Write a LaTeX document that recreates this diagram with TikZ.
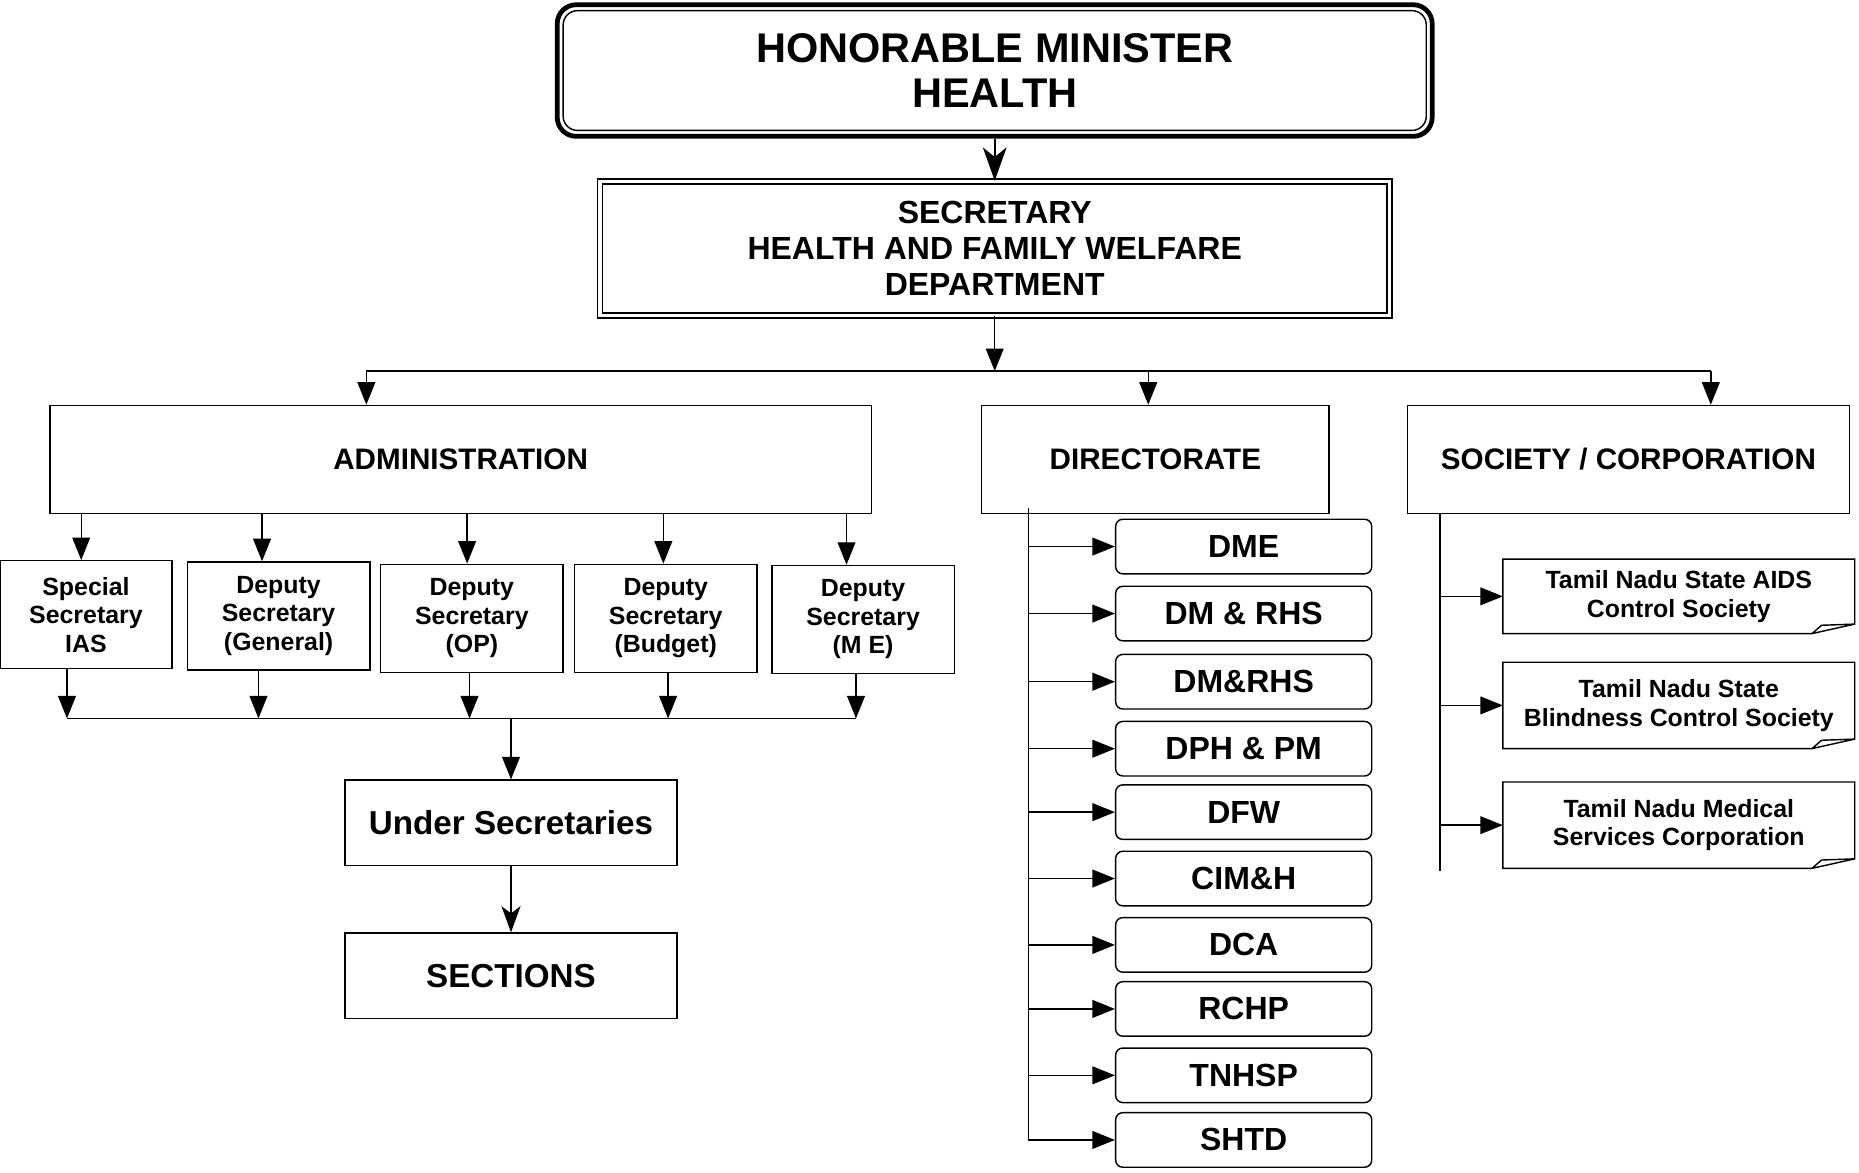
\documentclass[tikz,border=0pt]{standalone}
\usepackage{fontspec}
\setmainfont{Liberation Sans}
\usetikzlibrary{arrows.meta,positioning}

\begin{document}
\begin{tikzpicture}[x=0.5pt,y=-0.5pt,
  every node/.style={inner sep=0pt,align=center,font=\bfseries},
  box/.style={draw,line width=0.6pt},
  topbox/.style={box,minimum height=45.5pt,font=\fontsize{12.5}{14}\selectfont\bfseries},
  depbox/.style={box,minimum width=77pt,minimum height=45.5pt,font=\fontsize{10.5}{12}\selectfont\bfseries},
  lowbox/.style={box,minimum width=140pt,minimum height=36pt,font=\fontsize{14}{16}\selectfont\bfseries},
  dirbox/.style={box,rounded corners=3pt,minimum width=108pt,minimum height=23pt,font=\fontsize{13.5}{15}\selectfont\bfseries},
  socbox/.style={minimum width=148pt,font=\fontsize{10.5}{12}\selectfont\bfseries},
  arr/.style={-{Triangle[length=9.5pt,width=7.5pt]},line width=0.6pt},
  sarr/.style={-{Stealth[length=14pt,width=10pt,inset=4pt]},line width=0.9pt},
  sarr2/.style={-{Stealth[length=11pt,width=8pt,inset=3pt]},line width=0.8pt}]
\useasboundingbox (0,0) rectangle (1568,989);

\node[draw,line width=2pt,rounded corners=8pt,minimum width=369pt,minimum height=55.5pt,
  font=\fontsize{17.5}{19}\selectfont\bfseries] (minister) at (839,59.5) {HONORABLE MINISTER\\HEALTH};
\draw[line width=0.6pt,rounded corners=6pt] ([shift={(3.5pt,-3.5pt)}]minister.north west) rectangle ([shift={(-3.5pt,3.5pt)}]minister.south east);
\node[box,double,double distance=1.5pt,minimum width=333pt,minimum height=56.5pt,
  font=\fontsize{13.5}{15}\selectfont\bfseries] (secy) at (839,209.5) {SECRETARY\\HEALTH AND FAMILY WELFARE\\DEPARTMENT};
\draw[sarr] (minister.south) -- (secy.north);

\node[topbox,minimum width=346.5pt] (admin) at (388.5,387.5) {ADMINISTRATION};
\node[topbox,minimum width=146.5pt] (direct) at (974.5,387.5) {DIRECTORATE};
\node[topbox,minimum width=186.5pt] (society) at (1373.5,387.5) {SOCIETY / CORPORATION};

\coordinate (busl) at (309,313);
\coordinate (busr) at (1443,313);
\draw[arr] (secy.south) -- (secy.south |- busl);
\draw[line width=0.6pt] (busl) -- (busr);
\draw[arr] (busl) -- (busl |- admin.north);
\draw[arr] ([xshift=-3pt]direct.north |- busl) -- ([xshift=-3pt]direct.north);
\draw[arr] (busr) -- (busr |- society.north);

% administration
\node[depbox,minimum width=72.5pt] (spl) at (72.5,518.5) {Special\\Secretary\\IAS};
\node[depbox] (gen) at (235,519.5) {Deputy\\Secretary\\(General)};
\node[depbox] (op) at (398,521.5) {Deputy\\Secretary\\(OP)};
\node[depbox] (bud) at (561.5,521.5) {Deputy\\Secretary\\(Budget)};
\node[depbox] (me) at (728,522.5) {Deputy\\Secretary\\(M E)};
\foreach \b/\s in {spl/-2pt,gen/-7pt,op/-2pt,bud/-1pt,me/-7pt}
  \draw[arr] ([xshift=\s]\b.north |- admin.south) -- ([xshift=\s]\b.north);

\coordinate (bus2) at (431,606);
\foreach \b/\s in {spl/-8pt,gen/-8.5pt,op/-1pt,bud/1pt,me/-3pt}
  \draw[arr] ([xshift=\s]\b.south) -- ([xshift=\s]\b.south |- bus2);
\draw[line width=0.6pt] ([xshift=-8pt]spl.south |- bus2) -- ([xshift=-3pt]me.south |- bus2);

\node[lowbox] (under) at (431,694) {Under Secretaries};
\node[lowbox] (sect) at (431,823) {SECTIONS};
\draw[arr] (bus2) -- (under.north);
\draw[sarr2] (under.south) -- (sect.north);

% directorate
\coordinate (dtop) at ([shift={(20pt,2.5pt)}]direct.south west);
\foreach \i/\t/\y in {1/DME/461,2/DM \& RHS/517.5,3/DM\&RHS/575,4/DPH \& PM/631.5,5/DFW/685,
    6/CIM\&H/741,7/DCA/797,8/RCHP/851,9/TNHSP/907,10/SHTD/961.5} {
  \node[dirbox] (d\i) at (1049,\y) {\t};
  \draw[arr] (dtop |- d\i.west) -- (d\i.west);
}
\draw[line width=0.6pt] (dtop) -- (dtop |- d10.west);

% society
\coordinate (stop) at ([xshift=14pt]society.south west);
\node[socbox,minimum height=31pt] (s1) at (1416,503) {Tamil Nadu State AIDS\\Control Society};
\node[socbox,minimum height=36pt] (s2) at (1416,595) {Tamil Nadu State\\Blindness Control Society};
\node[socbox,minimum height=36pt] (s3) at (1416,696) {Tamil Nadu Medical\\Services Corporation};
\foreach \s in {s1,s2,s3} {
  \draw[line width=0.6pt] (\s.north west) -- (\s.north east) -- ([yshift=4pt]\s.south east)
    -- ([xshift=-18pt]\s.south east) -- (\s.south west) -- cycle
    ([xshift=-18pt]\s.south east) -- ([shift={(-14pt,3.5pt)}]\s.south east) -- ([yshift=4pt]\s.south east);
  \draw[arr] (stop |- \s.west) -- (\s.west);
}
\draw[line width=0.6pt] (stop) -- ([yshift=-1pt]stop |- s3.south);
\end{tikzpicture}
\end{document}
